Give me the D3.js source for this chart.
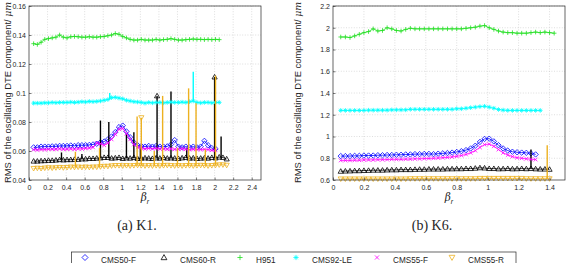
<!DOCTYPE html>
<html>
<head>
<meta charset="utf-8">
<script src="https://cdn.jsdelivr.net/npm/d3@7"></script>
<style>
body { margin: 0; background: #fff; }
svg text { font-family: "Liberation Sans", Arial, sans-serif; fill: #262626; }
.tick text { font-size: 7px; }
.grid line { stroke: #c8c8c8; stroke-width: 0.6; stroke-dasharray: 1,1.6; }
.caption { font-family: "Liberation Serif", "DejaVu Serif", serif !important; font-size: 14px; }
</style>
</head>
<body>
<svg id="chart" width="570" height="263"></svg>
<script>
// ---- data: panel (a) K1, samples every 0.04 starting at 0.05
const k1Start = 0.05, k1Step = 0.04
const k1Blue = [0.0625,0.0625,0.063,0.063,0.063,0.0632,0.0632,0.0635,0.0635,0.0635,
  0.0638,0.0635,0.064,0.064,0.064,0.0642,0.0645,0.065,0.066,0.0665,
  0.068,0.070,0.073,0.0765,0.0775,0.0735,0.0695,0.066,0.064,0.0635,
  0.063,0.0635,0.063,0.0635,0.063,0.063,0.0632,0.0645,0.0675,0.063,
  0.0625,0.063,0.0625,0.063,0.0625,0.063,0.067,0.064,0.062,0.0615]
const k1Black = [0.053,0.053,0.0532,0.0533,0.0535,0.0535,0.0537,0.054,0.0538,0.054,
  0.054,0.0542,0.0542,0.0545,0.0545,0.0548,0.0548,0.055,0.0552,0.0555,
  0.0555,0.055,0.0552,0.0555,0.0548,0.0552,0.055,0.0555,0.0548,0.055,
  0.0552,0.055,0.0548,0.0552,0.055,0.0555,0.055,0.0552,0.055,0.0548,
  0.0552,0.0555,0.055,0.0552,0.0548,0.055,0.0552,0.055,0.0555,0.0552,
  0.0558,0.0555,0.0545]
const k1Green = [0.134,0.1335,0.135,0.137,0.1375,0.138,0.1385,0.140,0.1385,0.138,
  0.1388,0.139,0.1388,0.1385,0.1385,0.1388,0.1385,0.1385,0.1388,0.139,
  0.1395,0.140,0.141,0.1405,0.139,0.138,0.137,0.1365,0.1365,0.137,
  0.1365,0.1365,0.1365,0.137,0.1365,0.1368,0.137,0.1375,0.137,0.1365,
  0.1365,0.1368,0.137,0.1372,0.137,0.137,0.1368,0.137,0.1368,0.137,
  0.1368]
const k1Cyan = [0.093,0.093,0.093,0.0932,0.0932,0.0935,0.0933,0.0935,0.0935,0.0935,
  0.0937,0.0935,0.0937,0.094,0.0938,0.0942,0.094,0.0942,0.0945,0.095,
  0.0955,0.0968,0.097,0.0965,0.096,0.095,0.0945,0.094,0.0938,0.0935,
  0.093,0.0935,0.0932,0.0935,0.0935,0.0932,0.0935,0.0937,0.0935,0.0935,
  0.0937,0.0935,0.094,0.0945,0.0935,0.0932,0.0935,0.0935,0.0932,0.0935,
  0.0935]
const k1Magenta = [0.061,0.0608,0.061,0.061,0.0612,0.0612,0.0612,0.0615,0.0612,0.0612,
  0.0615,0.0612,0.0615,0.0615,0.0618,0.062,0.0625,0.0655,0.065,0.064,
  0.0655,0.068,0.0715,0.075,0.0755,0.072,0.068,0.0645,0.0625,0.062,
  0.0615,0.0618,0.0615,0.0618,0.0615,0.0615,0.0612,0.0615,0.0612,0.0612,
  0.0615,0.0612,0.061,0.0612,0.061,0.061,0.0612,0.061,0.0605,0.0605]
const k1Orange = [0.048,0.0482,0.048,0.0483,0.0485,0.0483,0.0485,0.0487,0.0485,0.0487,
  0.049,0.0488,0.049,0.0488,0.049,0.0488,0.049,0.049,0.0492,0.0495,
  0.0495,0.0498,0.05,0.05,0.0498,0.05,0.0498,0.05,0.0502,0.05,
  0.0498,0.05,0.0498,0.05,0.0498,0.05,0.0502,0.05,0.0498,0.05,
  0.0498,0.05,0.05,0.0498,0.05,0.0502,0.05,0.0498,0.05,0.0502,
  0.0505,0.0505,0.0502]
// spikes: [beta, base, peak, marker at peak]
const k1BlackSpikes = [[0.35,0.054,0.059],[0.57,0.0545,0.058],[0.77,0.055,0.081],[0.86,0.055,0.080],
  [1.05,0.055,0.0715],[1.13,0.055,0.073],[1.20,0.055,0.063],[1.38,0.055,0.098,1],
  [1.53,0.055,0.101],[1.70,0.055,0.062],[2.00,0.055,0.111,1],[2.07,0.0555,0.070]]
const k1OrangeSpikes = [[0.50,0.049,0.0595],[0.76,0.049,0.062],[1.165,0.05,0.0838],[1.21,0.05,0.083,1],
  [1.35,0.05,0.060],[1.44,0.05,0.098],[1.60,0.05,0.062],[1.72,0.05,0.1032],
  [1.80,0.05,0.093],[1.90,0.05,0.061],[2.01,0.05,0.112]]
const k1CyanSpikes = [[0.87,0.0955,0.100],[1.77,0.0945,0.1147]]

// ---- data: panel (b) K6, samples every 0.03 starting at 0.05
const k6Start = 0.05, k6Step = 0.03
const k6Blue = [0.82,0.82,0.82,0.822,0.822,0.825,0.825,0.825,0.828,0.828,
  0.83,0.83,0.832,0.832,0.835,0.835,0.838,0.838,0.84,0.84,
  0.838,0.842,0.845,0.848,0.852,0.858,0.865,0.875,0.89,0.915,
  0.95,0.978,0.98,0.955,0.92,0.89,0.87,0.86,0.855,0.852,
  0.85,0.845,0.835]
const k6Black = [0.68,0.682,0.683,0.685,0.685,0.687,0.688,0.69,0.69,0.69,
  0.692,0.693,0.693,0.695,0.695,0.695,0.697,0.698,0.698,0.7,
  0.7,0.7,0.7,0.702,0.702,0.703,0.703,0.705,0.705,0.708,
  0.712,0.71,0.705,0.705,0.702,0.703,0.705,0.702,0.703,0.705,
  0.703,0.705,0.702,0.7,0.7,0.698]
const k6Green = [1.915,1.915,1.91,1.925,1.94,1.955,1.965,1.99,1.97,1.975,
  2.0,1.99,1.975,1.97,1.985,1.995,1.99,1.99,1.99,1.99,
  1.99,1.99,1.99,1.99,1.99,1.99,1.99,1.995,2.0,2.005,
  2.015,2.02,2.0,1.985,1.97,1.96,1.955,1.955,1.95,1.95,
  1.95,1.955,1.96,1.955,1.96,1.955,1.95]
const k6Cyan = [1.24,1.24,1.24,1.24,1.24,1.24,1.242,1.242,1.242,1.242,
  1.242,1.245,1.245,1.245,1.245,1.25,1.25,1.25,1.25,1.25,
  1.25,1.25,1.25,1.25,1.25,1.255,1.255,1.26,1.265,1.27,
  1.275,1.278,1.27,1.26,1.248,1.243,1.24,1.24,1.24,1.24,
  1.24,1.24,1.24,1.24]
const k6Magenta = [0.78,0.78,0.78,0.782,0.782,0.785,0.785,0.785,0.787,0.787,
  0.788,0.79,0.79,0.79,0.792,0.792,0.795,0.795,0.797,0.798,
  0.8,0.802,0.805,0.808,0.812,0.818,0.825,0.835,0.85,0.87,
  0.9,0.925,0.93,0.91,0.88,0.85,0.83,0.815,0.805,0.8,
  0.795,0.79,0.788]
const k6Orange = [0.61,0.61,0.61,0.61,0.61,0.61,0.61,0.61,0.61,0.61,
  0.61,0.61,0.61,0.61,0.61,0.612,0.612,0.612,0.612,0.612,
  0.612,0.612,0.612,0.612,0.612,0.612,0.612,0.612,0.612,0.612,
  0.615,0.615,0.615,0.615,0.615,0.615,0.615,0.615,0.615,0.615,
  0.612,0.612,0.612,0.612,0.612,0.612]
const k6BlackSpikes = [[1.28,0.705,0.88]]
const k6OrangeSpikes = [[1.385,0.612,0.92]]

// ---- axes ticks
const k1XTicks = [0,0.2,0.4,0.6,0.8,1,1.2,1.4,1.6,1.8,2,2.2,2.4]
const k1YTicks = [0.04,0.06,0.08,0.1,0.12,0.14,0.16]
const k6XTicks = [0,0.2,0.4,0.6,0.8,1,1.2,1.4]
const k6YTicks = [0.6,0.8,1,1.2,1.4,1.6,1.8,2,2.2]

const seriesNames = ['CMS50-F','CMS60-R','H951','CMS92-LE','CMS55-F','CMS55-R']
const seriesColors = ['#0000ff','#000000','#22e022','#00ffff','#ff00ff','#edb120']
const seriesMarkers = ['diamond','triUp','plus','star','cross','triDown']

const markerPath = {
  diamond: r => `M0,${-r}L${r},0L0,${r}L${-r},0Z`,
  triUp: r => `M0,${-r}L${r},${r*0.75}L${-r},${r*0.75}Z`,
  triDown: r => `M0,${r}L${r},${-r*0.75}L${-r},${-r*0.75}Z`,
  plus: r => `M${-r},0H${r}M0,${-r}V${r}`,
  cross: r => `M${-r*0.8},${-r*0.8}L${r*0.8},${r*0.8}M${-r*0.8},${r*0.8}L${r*0.8},${-r*0.8}`,
  star: r => `M${-r},0H${r}M0,${-r}V${r}M${-r*0.7},${-r*0.7}L${r*0.7},${r*0.7}M${-r*0.7},${r*0.7}L${r*0.7},${-r*0.7}`
}
const markerR = [2.7, 2.6, 2.3, 2.3, 2.3, 2.6]

const svg = d3.select('#chart')

function toPoints(values, start, step) {
  return values.map((v, i) => ({x: start + i * step, y: v}))
}

function drawPanel(cfg) {
  const xScale = d3.scaleLinear().domain(cfg.xDomain).range([cfg.left, cfg.right])
  const yScale = d3.scaleLinear().domain(cfg.yDomain).range([cfg.bottom, cfg.top])

  const g = svg.append('g')

  // grid
  const grid = g.append('g').attr('class', 'grid')
  grid.selectAll('.gx').data(cfg.xTicks.slice(1)).join('line')
    .attr('x1', d => xScale(d)).attr('x2', d => xScale(d))
    .attr('y1', cfg.top).attr('y2', cfg.bottom)
  grid.selectAll('.gy').data(cfg.yTicks.slice(1)).join('line')
    .attr('x1', cfg.left).attr('x2', cfg.right)
    .attr('y1', d => yScale(d)).attr('y2', d => yScale(d))

  const line = d3.line().x(d => xScale(d.x)).y(d => yScale(d.y))

  cfg.series.forEach((s, k) => {
    const col = seriesColors[k]
    const pts = toPoints(s, cfg.start, cfg.step)
    g.append('path').datum(pts)
      .attr('d', line).attr('fill', 'none')
      .attr('stroke', col).attr('stroke-width', 0.8)
    const spikes = cfg.spikes[k] || []
    g.selectAll(null).data(spikes).join('line')
      .attr('x1', d => xScale(d[0])).attr('x2', d => xScale(d[0]))
      .attr('y1', d => yScale(d[1])).attr('y2', d => yScale(d[2]))
      .attr('stroke', col).attr('stroke-width', 1.4)
    const mk = pts.concat(spikes.filter(d => d[3]).map(d => ({x: d[0], y: d[2]})))
    g.selectAll(null).data(mk).join('path')
      .attr('transform', d => `translate(${xScale(d.x)},${yScale(d.y)})`)
      .attr('d', markerPath[seriesMarkers[k]](markerR[k]))
      .attr('fill', 'none').attr('stroke', col).attr('stroke-width', 0.8)
  })

  // axes, inward ticks like MATLAB
  const xAxis = d3.axisBottom(xScale).tickValues(cfg.xTicks).tickFormat(d => String(d))
    .tickSizeInner(-2.5).tickSizeOuter(0).tickPadding(5)
  const yAxis = d3.axisLeft(yScale).tickValues(cfg.yTicks).tickFormat(d => String(d))
    .tickSizeInner(-2.5).tickSizeOuter(0).tickPadding(3)
  const xg = g.append('g').attr('transform', `translate(0,${cfg.bottom})`).call(xAxis)
  const yg = g.append('g').attr('transform', `translate(${cfg.left},0)`).call(yAxis)
  ;[xg, yg].forEach(a => {
    a.select('.domain').remove()
    a.selectAll('.tick line').attr('stroke', '#262626').attr('stroke-width', 0.6)
  })

  g.append('rect')
    .attr('x', cfg.left).attr('y', cfg.top)
    .attr('width', cfg.right - cfg.left).attr('height', cfg.bottom - cfg.top)
    .attr('fill', 'none').attr('stroke', '#262626').attr('stroke-width', 0.7)

  // x label beta_r
  const xl = g.append('text')
    .attr('x', (cfg.left + cfg.right) / 2).attr('y', cfg.bottom + 21)
    .attr('text-anchor', 'middle').style('font-size', '10.5px')
  xl.append('tspan').style('font-style', 'italic').style('font-family', '"DejaVu Serif", serif').text('β')
  xl.append('tspan').attr('dy', 3).style('font-size', '7px').style('font-style', 'italic').text('r')

  // y label
  const yl = g.append('text')
    .attr('transform', `translate(${cfg.yLabelX},${cfg.bottom + 3}) rotate(-90)`)
    .attr('text-anchor', 'start').style('font-size', '9.4px')
  yl.append('tspan').text('RMS of the oscillating DTE component/ ')
  yl.append('tspan').style('font-style', 'italic').style('font-family', '"DejaVu Serif", serif').text('μm')

  g.append('text').attr('class', 'caption')
    .attr('x', cfg.captionX).attr('y', 230)
    .attr('text-anchor', 'middle').text(cfg.caption)
}

drawPanel({
  left: 29, right: 261, top: 6, bottom: 180,
  xDomain: [0, 2.5], yDomain: [0.04, 0.16],
  xTicks: k1XTicks, yTicks: k1YTicks,
  start: k1Start, step: k1Step,
  series: [k1Blue, k1Black, k1Green, k1Cyan, k1Magenta, k1Orange],
  spikes: [null, k1BlackSpikes, null, k1CyanSpikes, null, k1OrangeSpikes],
  yLabelX: 10.5, captionX: 137, caption: '(a) K1.'
})

drawPanel({
  left: 333, right: 565, top: 6, bottom: 180,
  xDomain: [0, 1.5], yDomain: [0.6, 2.2],
  xTicks: k6XTicks, yTicks: k6YTicks,
  start: k6Start, step: k6Step,
  series: [k6Blue, k6Black, k6Green, k6Cyan, k6Magenta, k6Orange],
  spikes: [null, k6BlackSpikes, null, null, null, k6OrangeSpikes],
  yLabelX: 300.5, captionX: 432, caption: '(b) K6.'
})

// legend
const legendX = [85, 164, 240, 296, 377, 452]
const legend = svg.append('g')
legend.append('rect')
  .attr('x', 71.5).attr('y', 252).attr('width', 444.5).attr('height', 20)
  .attr('fill', '#fff').attr('stroke', '#262626').attr('stroke-width', 0.7)
const items = legend.selectAll('.item').data(seriesNames).join('g')
  .attr('transform', (d, i) => `translate(${legendX[i]},0)`)
items.append('path')
  .attr('transform', 'translate(0,257.5)')
  .attr('d', (d, i) => markerPath[seriesMarkers[i]](markerR[i] + 0.3))
  .attr('fill', 'none').attr('stroke', (d, i) => seriesColors[i]).attr('stroke-width', 0.8)
items.append('text')
  .attr('x', 16).attr('y', 262.5)
  .style('font-size', '8.2px').text(d => d)
</script>
</body>
</html>
